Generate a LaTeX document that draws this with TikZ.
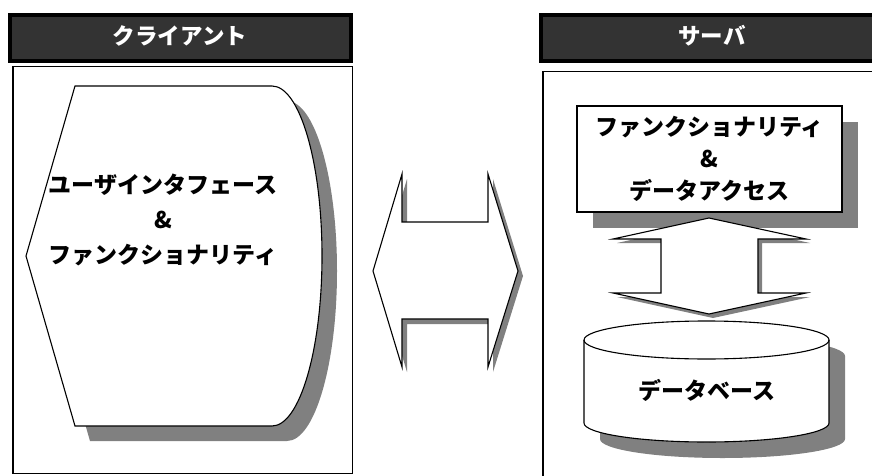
\documentclass[tikz,border=0pt]{standalone}
\usepackage{fontspec}
\newfontfamily\jpfont{Noto Sans CJK JP}
\usetikzlibrary{shadows}

\tikzset{
  hdr/.style={draw=black, line width=4pt, fill=black!80},
  hdrtext/.style={text=white, font=\jpfont\bfseries\fontsize{22.5}{26}\selectfont},
  panel/.style={draw=black, line width=1.5pt},
  body/.style={draw=black, line width=1.1pt, fill=white},
  shadowed/.style={drop shadow={shadow xshift=#1, shadow yshift=-#1, fill=black!50, opacity=1}},
  jptext/.style={align=center, font=\jpfont\bfseries\fontsize{23}{35}\selectfont}
}

\begin{document}
\begin{tikzpicture}[x=1pt, y=-1pt]
  \useasboundingbox (0,0) rectangle (872,476);

  % headers
  \draw[hdr] (10,15) rectangle (351,61);
  \draw[hdr] (541,15) rectangle (888,61);
  \node[hdrtext] (client) at (180,36) {クライアント};
  \node[hdrtext] (server) at (712,36) {サーバ};

  % panels
  \draw[panel] (12.75,66.75) rectangle (352.25,473.25);
  \draw[panel] (542.75,71.75) rectangle (890,490);

  % client side
  \draw[body, shadowed=15pt] (75,86) -- (272,86)
    arc[start angle=-90, end angle=90, x radius=50, y radius=170]
    -- (75,426) -- (26,256) -- cycle;
  \node[jptext] (ui) at (163,220) {ユーザインタフェース\\\&\\ファンクショナリティ};

  % exchange
  \draw[body, shadowed=5pt] (373,271) -- (402,174) -- (402,222) -- (488,222)
    -- (488,174) -- (518,271) -- (488,367) -- (488,319) -- (402,319)
    -- (402,367) -- cycle;

  % server side
  \node[body, shadowed=16pt, minimum width=265pt, minimum height=106pt,
        jptext, font=\jpfont\bfseries\fontsize{23}{32}\selectfont] (fda) at (709.5,159)
    {ファンクショナリティ\\\&\\データアクセス};

  \draw[body, shadowed=4pt] (709,218) -- (806,239) -- (758,239) -- (758,293)
    -- (806,293) -- (709,314) -- (613,293) -- (661,293) -- (661,239)
    -- (613,239) -- cycle;

  \draw[body, shadowed=16pt] (584,340) -- (584,423)
    arc[start angle=180, end angle=0, x radius=122.5, y radius=19]
    -- (829,340)
    arc[start angle=0, end angle=-180, x radius=122.5, y radius=19] -- cycle;
  \draw[line width=1.1pt] (584,340)
    arc[start angle=180, end angle=0, x radius=122.5, y radius=19];
  \node[jptext] (db) at (707,390) {データベース};
\end{tikzpicture}
\end{document}
